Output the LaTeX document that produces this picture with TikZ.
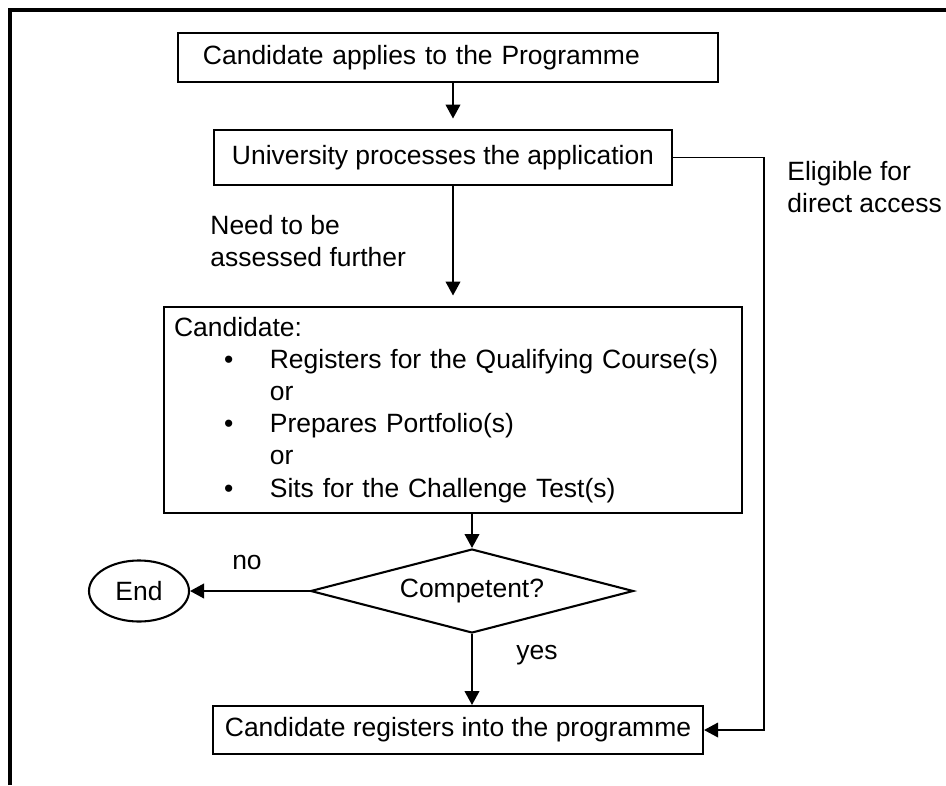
\documentclass[tikz,border=0pt]{standalone}
\usepackage{fontspec}
\setmainfont{Liberation Sans}
\usetikzlibrary{arrows.meta,shapes.geometric}

\begin{document}
\begin{tikzpicture}[x=0.48pt, y=-0.48pt, font=\fontsize{12.7}{15.4}\selectfont]
    % Centres of the boxes (pixel grid of the page)
    \coordinate (p_apply) at (448, 57.5);
    \coordinate (p_uni) at (443, 157.5);
    \coordinate (p_cand) at (453, 410);
    \coordinate (p_comp) at (472, 591);
    \coordinate (p_end) at (139, 591);
    \coordinate (p_reg) at (458, 730);
    
    % Bend of the direct access line
    \coordinate (bend) at (764, 157.5);
    
    % Styles
    \tikzset{
        c_box/.style={draw, line width=1pt, inner sep=0pt},
        c_arr/.style={line width=1pt, -{Triangle[length=6.7pt, width=7pt]}},
        c_thin/.style={line width=0.75pt, -{Triangle[length=6.7pt, width=7pt]}},
        c_frame/.style={line width=1.8pt},
        c_lbl/.style={align=left, anchor=west, inner sep=0pt}
    }
    
    \useasboundingbox (0,0) rectangle (946,785);
    
    % Outer frame (left and top only)
    \draw[c_frame] (10,785) -- (10,10) -- (946,10);
    
    % Boxes
    \node[c_box, minimum width=259.2pt, minimum height=23.5pt, inner xsep=12pt, text width=235.2pt, align=left] (apply) at (p_apply) {Candidate applies to the Programme};
    \node[c_box, minimum width=219.8pt, minimum height=26.4pt] (uni) at (p_uni) {University processes the application};
    \node[c_box, minimum width=277.4pt, minimum height=98.9pt, text width=267.8pt, align=left] (cand) at (p_cand) {%
        Candidate:\\
        \hspace*{24pt}\makebox[22pt][l]{\textbullet}Registers for the Qualifying Course(s)\\
        \hspace*{46pt}or\\
        \hspace*{24pt}\makebox[22pt][l]{\textbullet}Prepares Portfolio(s)\\
        \hspace*{46pt}or\\
        \hspace*{24pt}\makebox[22pt][l]{\textbullet}Sits for the Challenge Test(s)};
    \node[c_box, diamond, aspect=3.85, minimum width=155pt, minimum height=40.3pt] (comp) at (p_comp) {Competent?};
    \node[c_box, ellipse, minimum width=48pt, minimum height=29.3pt] (end) at (p_end) {End};
    \node[c_box, minimum width=235.2pt, minimum height=23pt] (reg) at (p_reg) {Candidate registers into the programme};
    
    % Connectors
    \draw[c_arr, shorten >=5pt] (apply.south -| cand.north) -- (uni.north -| cand.north);
    \draw[c_arr, shorten >=5pt] (uni.south -| cand.north) -- (cand.north);
    \draw[c_arr] (cand.south -| comp.north) -- (comp.north);
    \draw[c_arr] (comp.west) -- (end.east);
    \draw[c_arr] (comp.south) -- (comp.south |- reg.north);
    \draw[c_thin] (uni.east) -- (bend) |- (reg.east);
    
    % Labels
    \node[c_lbl] (l_elig) at (787, 187) {Eligible for\\direct access};
    \node[c_lbl] (l_need) at (210, 241) {Need to be\\assessed further};
    \node[inner sep=0pt] (l_no) at (247, 563) {no};
    \node[c_lbl] (l_yes) at (516, 655) {yes};
\end{tikzpicture}
\end{document}
